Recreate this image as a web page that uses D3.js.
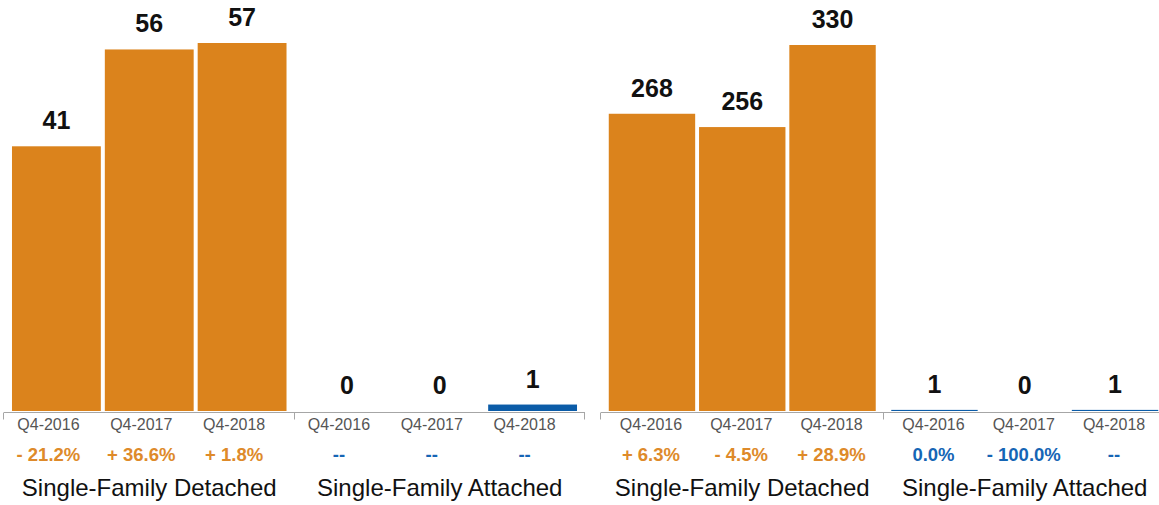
<!DOCTYPE html>
<html>
<head>
<meta charset="utf-8">
<script src="https://cdn.jsdelivr.net/npm/d3@7"></script>
<style>
  html, body { margin: 0; padding: 0; background: #fff; }
  svg { display: block; font-family: "Liberation Sans", Arial, Helvetica, sans-serif; }
</style>
</head>
<body>
<svg id="chart" width="1159" height="505"></svg>
<script>
// Quarters shown in each group
const periods = ["Q4-2016", "Q4-2017", "Q4-2018"];
// Home types (one group of bars each)
const homeTypes = ["Single-Family Detached", "Single-Family Attached"];

// Left panel values
const leftDetached = [41, 56, 57];
const leftAttached = [0, 0, 1];
const leftDetachedChange = ["- 21.2%", "+ 36.6%", "+ 1.8%"];
const leftAttachedChange = ["--", "--", "--"];

// Right panel values
const rightDetached = [268, 256, 330];
const rightAttached = [1, 0, 1];
const rightDetachedChange = ["+ 6.3%", "- 4.5%", "+ 28.9%"];
const rightAttachedChange = ["0.0%", "- 100.0%", "--"];

const typeColors = {
  "Single-Family Detached": "#DB831C",
  "Single-Family Attached": "#0B5CA8"
};
const changeColors = {
  "Single-Family Detached": "#DE8A2A",
  "Single-Family Attached": "#1565B5"
};

const panels = [
  {
    x0: 4, x1: 585, top: 43, labelDx: -8,
    series: [
      { type: homeTypes[0], values: leftDetached, change: leftDetachedChange },
      { type: homeTypes[1], values: leftAttached, change: leftAttachedChange }
    ]
  },
  {
    x0: 601, x1: 1166, top: 45, labelDx: -1,
    series: [
      { type: homeTypes[0], values: rightDetached, change: rightDetachedChange },
      { type: homeTypes[1], values: rightAttached, change: rightAttachedChange }
    ]
  }
];

const baseline = 411;
const svg = d3.select("#chart");

panels.forEach(panel => {
  const g = svg.append("g");
  const maxVal = d3.max(panel.series, s => d3.max(s.values));

  const groupScale = d3.scaleBand()
    .domain(homeTypes)
    .range([panel.x0, panel.x1]);

  const periodScale = d3.scaleBand()
    .domain(periods)
    .range([0, groupScale.bandwidth()])
    .paddingInner(0.043)
    .paddingOuter(0.086);

  const y = d3.scaleLinear()
    .domain([0, maxVal])
    .range([baseline, panel.top]);

  // axis baseline with ticks at group boundaries
  const axisG = g.append("g").attr("transform", `translate(0,${baseline + 1.5})`);
  axisG.append("line")
    .attr("x1", panel.x0).attr("x2", panel.x1)
    .attr("y1", 0).attr("y2", 0)
    .attr("stroke", "#a6a6a6").attr("stroke-width", 1);
  const boundaries = homeTypes.map(t => groupScale(t)).concat([panel.x1]);
  axisG.selectAll("line.tick")
    .data(boundaries)
    .join("line")
    .attr("class", "tick")
    .attr("x1", d => Math.round(d) - 0.5).attr("x2", d => Math.round(d) - 0.5)
    .attr("y1", 0).attr("y2", 7)
    .attr("stroke", "#a6a6a6").attr("stroke-width", 1);

  panel.series.forEach(s => {
    const sg = g.append("g").attr("transform", `translate(${groupScale(s.type)},0)`);
    const rows = periods.map((p, i) => ({ period: p, value: s.values[i], change: s.change[i] }));

    sg.selectAll("rect")
      .data(rows)
      .join("rect")
      .attr("x", d => periodScale(d.period))
      .attr("width", periodScale.bandwidth())
      .attr("y", d => y(d.value))
      .attr("height", d => baseline - y(d.value))
      .attr("fill", typeColors[s.type]);

    // value labels above bars
    sg.selectAll("text.value")
      .data(rows)
      .join("text")
      .attr("class", "value")
      .attr("x", d => periodScale(d.period) + periodScale.bandwidth() / 2)
      .attr("y", d => y(d.value) - 17)
      .attr("text-anchor", "middle")
      .attr("font-size", 25)
      .attr("font-weight", "bold")
      .attr("fill", "#111")
      .text(d => d.value);

    // period tick labels
    const axis = d3.axisBottom(periodScale).tickSize(0).tickPadding(0);
    const ax = sg.append("g")
      .attr("transform", `translate(0,${baseline})`)
      .call(axis);
    ax.select(".domain").remove();
    ax.selectAll("text")
      .attr("dy", null)
      .attr("y", 19)
      .attr("dx", panel.labelDx)
      .attr("font-size", 16)
      .attr("font-family", "\"Liberation Sans\", Arial, sans-serif")
      .attr("fill", "#555");

    // change labels
    sg.selectAll("text.change")
      .data(rows)
      .join("text")
      .attr("class", "change")
      .attr("x", d => periodScale(d.period) + periodScale.bandwidth() / 2 + panel.labelDx)
      .attr("y", 461)
      .attr("text-anchor", "middle")
      .attr("font-size", 18.5)
      .attr("font-weight", "bold")
      .attr("fill", changeColors[s.type])
      .text(d => d.change);

    // group title
    sg.append("text")
      .attr("x", groupScale.bandwidth() / 2)
      .attr("y", 496)
      .attr("text-anchor", "middle")
      .attr("font-size", 24)
      .attr("fill", "#111")
      .text(s.type);
  });
});
</script>
</body>
</html>
